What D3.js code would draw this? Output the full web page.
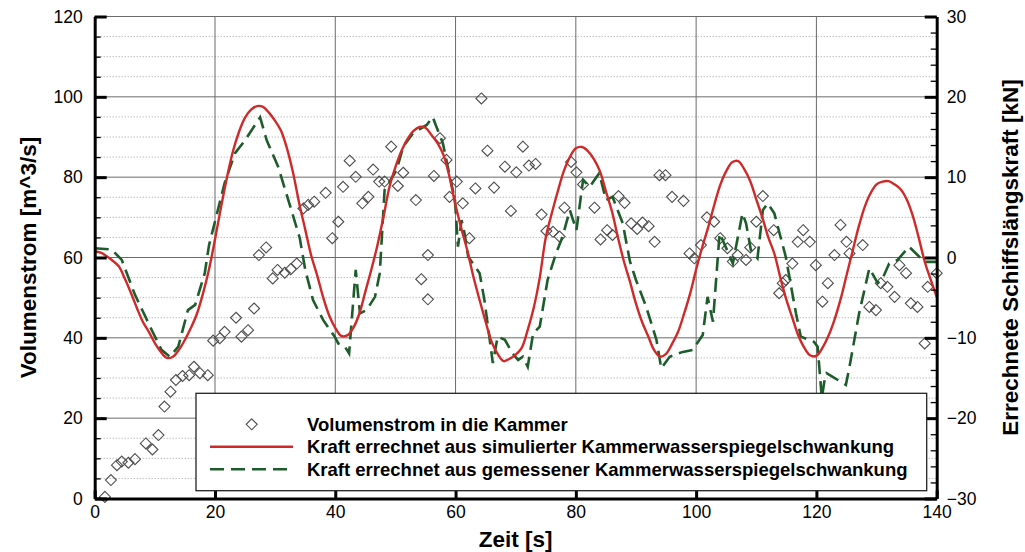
<!DOCTYPE html>
<html lang="de">
<head>
    <meta charset="utf-8">
    <title>Volumenstrom und Schiffslängskraft</title>
    <style type="text/css">
        body { margin: 0; background: #fff; }
        .chart text { font-family: "Liberation Sans", Arial, Helvetica, sans-serif; fill: #000; }
        .chart .tick text { font-size: 17.5px; }
        .chart .domain { stroke: #000; stroke-width: 3; }
        .chart .major line { stroke: #000; stroke-width: 3; }
        .chart .minor line { stroke: #000; stroke-width: 1.3; }
        .chart .title { font-size: 22.5px; font-weight: bold; }
        .chart .legend text { font-size: 18.5px; font-weight: bold; }
        .grid-major { stroke: #6a6a6a; stroke-width: 1; }
        .grid-minor { stroke: #a0a0a0; stroke-width: 1; stroke-dasharray: 1,2; }
        .diamond { fill: none; stroke: #4d4d4d; stroke-width: 1.1; }
    </style>
</head>
<body>
<svg class="chart" width="1025" height="552"></svg>
<script src="https://cdnjs.cloudflare.com/ajax/libs/d3/7.8.5/d3.min.js"></script>
<script>
// --- Daten ---
var seriesNames = [
    'Volumenstrom in die Kammer',
    'Kraft errechnet aus simulierter Kammerwasserspiegelschwankung',
    'Kraft errechnet aus gemessener Kammerwasserspiegelschwankung'
];

var xTicks = [0, 20, 40, 60, 80, 100, 120, 140];
var leftTicks = [0, 20, 40, 60, 80, 100, 120];
var rightTicks = [-30, -20, -10, 0, 10, 20, 30];

// Volumenstrom [m^3/s] über Zeit [s]
var volumenstrom = [
    [1.7, 0.4], [2.7, 4.6], [3.7, 8.3], [4.5, 9.2], [5.6, 8.9], [6.7, 9.8], [8.5, 13.7], [9.6, 12.2],
    [10.6, 15.8], [11.6, 22.9], [12.6, 26.6], [13.5, 29.5], [14.6, 30.5], [15.7, 30.7], [16.5, 32.8],
    [17.5, 31.2], [18.8, 30.7], [19.7, 39.3], [20.8, 39.9], [21.6, 41.5], [23.5, 45.0], [24.4, 40.3],
    [25.5, 41.9], [26.5, 47.3], [27.3, 60.6], [28.5, 62.5], [29.6, 54.8], [30.4, 56.9], [31.6, 56.2],
    [32.6, 57.1], [33.6, 58.5], [34.7, 72.2], [35.5, 73.1], [36.5, 73.9], [38.4, 76.1], [39.5, 64.8],
    [40.5, 68.9], [41.3, 77.6], [42.4, 84.1], [43.4, 80.1], [44.5, 73.5], [45.5, 75.1], [46.3, 81.9],
    [47.3, 78.9], [48.2, 78.9], [49.3, 87.6], [50.4, 77.8], [51.3, 81.1], [53.4, 74.3], [54.3, 54.6],
    [55.4, 49.6], [55.4, 60.6], [56.4, 80.3], [57.4, 89.7], [58.5, 84.3], [59.0, 75.1], [60.2, 78.9],
    [61.2, 73.5], [62.3, 64.8], [63.3, 77.2], [64.3, 99.6], [65.3, 86.6], [66.4, 77.4], [68.2, 82.6],
    [69.2, 71.6], [70.1, 81.2], [71.2, 87.6], [72.2, 82.9], [73.3, 83.3], [74.3, 70.7], [75.1, 66.6],
    [76.2, 66.4], [77.3, 65.2], [78.1, 72.4], [79.2, 83.8], [80.1, 81.2], [81.2, 78.2], [83.1, 72.4],
    [84.1, 64.5], [85.2, 66.8], [86.1, 65.6], [87.1, 75.3], [88.1, 73.6], [89.2, 68.5], [90.2, 67.1],
    [91.1, 68.7], [92.1, 67.8], [93.1, 63.9], [93.9, 80.5], [94.9, 80.5], [96.0, 75.1], [97.9, 74.1],
    [98.9, 61.0], [99.7, 59.8], [100.8, 63.1], [101.8, 70.0], [103.0, 68.9], [104.0, 64.8], [105.2, 62.3],
    [106.1, 59.0], [106.9, 60.6], [108.3, 59.4], [109.0, 62.5], [110.0, 68.9], [111.1, 75.3], [112.9, 66.8],
    [113.8, 51.1], [114.4, 53.6], [114.9, 54.4], [116.0, 58.5], [116.9, 63.9], [117.8, 66.8], [118.9, 63.9],
    [119.9, 58.1], [121.0, 49.0], [121.9, 53.6], [123.0, 60.6], [124.0, 68.1], [125.0, 63.9], [125.5, 61.0],
    [127.7, 63.1], [128.8, 47.7], [129.9, 46.9], [130.7, 53.6], [131.8, 52.7], [133.0, 50.2], [133.8, 58.1],
    [134.9, 56.1], [135.7, 48.6], [136.8, 47.7], [138.0, 38.6], [138.5, 52.7], [140.0, 56.1]
];

// Kraft aus simulierter Schwankung [kN]
var kraftSimuliert = [
    [0, 0.75], [1, 0.6], [2, 0.15], [3, -0.4], [4, -1.1], [5, -2.6], [6, -4.35], [7, -6.25], [8, -8],
    [9, -9.25], [10, -10.65], [11, -11.75], [12, -12.5], [13, -12.35], [14, -11.5], [15, -10.25],
    [16, -8.75], [17, -7], [18, -4.5], [19, -1.5], [20, 2.25], [21, 6.25], [22, 10], [23, 13.25],
    [24, 15.65], [25, 17.4], [26, 18.4], [27, 18.85], [28, 18.75], [29, 18], [30, 17], [31, 15.75],
    [32, 13.5], [33, 10.5], [34, 6.75], [35, 3.5], [36, 0.25], [37, -2.25], [38, -5], [39, -7.25],
    [40, -8.75], [41, -9.75], [42, -9.7], [43, -8.75], [44, -7], [45, -4.25], [46, -1.5], [47, 1.5],
    [48, 5], [49, 8.75], [50, 11.25], [51, 13.25], [52, 14.75], [53, 15.75], [54, 16.25], [55, 16.15],
    [56, 15.25], [57, 14.25], [58, 12.75], [59, 10], [60, 6.5], [61, 3.5], [62, 0.75], [63, -2.5],
    [64, -5.3], [65, -8], [66, -10.5], [67, -12], [68, -12.9], [69, -12.6], [70, -12.1], [71, -11.25],
    [72, -9], [73, -6.25], [74, -2.5], [75, 2.5], [76, 5.5], [77, 8.25], [78, 10.75],
    [79, 12.5], [80, 13.6], [81, 13.75], [82, 13.25], [83, 12.25], [84, 10.75], [85, 8.25], [86, 5.75],
    [87, 2.5], [88, -0.5], [89, -3], [90, -5.75], [91, -8], [92, -9.75], [93, -11.5], [94, -12.35],
    [95, -12], [96, -10.75], [97, -9.25], [98, -7], [99, -4.5], [100, -1.5], [101, 1.25], [102, 3.75],
    [103, 6.5], [104, 9], [105, 10.75], [106, 11.85], [107, 12], [108, 11], [109, 9.5], [110, 7.25],
    [111, 5], [112, 2.5], [113, 0.5], [114, -2.5], [115, -5.25], [116, -7.5], [117, -9.75], [118, -11.25],
    [119, -12.2], [120, -12.25], [121, -11.25], [122, -9.75], [123, -7.75], [124, -5.25], [125, -2.25],
    [126, 0.75], [127, 3.75], [128, 6.25], [129, 8], [130, 9.1], [131, 9.45], [132, 9.5], [133, 9.1],
    [134, 8.5], [135, 7.25], [136, 5.25], [137, 2.5], [138, -0.5], [139, -2.75], [140, -4.9]
];

// Kraft aus gemessener Schwankung [kN]
var kraftGemessen = [
    [0, 1.15], [2.8, 1.0], [4.5, -0.3], [6.7, -4.65], [9.5, -9.05], [11.1, -11.5], [12.5, -12.35],
    [13.9, -11.1], [15.5, -6.55], [16.7, -5.9], [18.3, -1.95], [19.0, 1.5], [21.6, 9.25], [23.3, 12.95],
    [25.0, 14.6], [27.5, 17.45], [28.6, 14.6], [30.5, 11.3], [32.7, 5.9], [34.1, 2.4], [35.0, -1.5],
    [36.3, -5.3], [38.0, -7.8], [39.9, -9.85], [40.5, -10.7], [41.6, -11.1], [42.3, -11.95], [43.0, -5.3],
    [43.4, -1.55], [44.1, -6.95], [45.2, -6.55], [46.6, -4.9], [47.4, -1.95], [48.2, 8.4], [50.2, 10.9],
    [51.3, 13.8], [52.9, 15.45], [55.2, 16.5], [56.2, 17.5], [56.8, 16.3], [57.9, 14.2], [58.7, 11.3],
    [59.9, 7.15], [60.4, 1.35], [61.0, 4.65], [61.5, 3.0], [62.1, 0.1], [64.0, -1.95], [64.8, -5.3],
    [66.2, -13.15], [67.0, -9.85], [68.2, -10.25], [69.5, -11.95], [70.4, -12.75], [71.2, -12.35],
    [72.0, -13.6], [72.9, -9.45], [74.0, -8.6], [75.3, -2.8], [76.7, 0.5], [77.8, 2.6], [79.0, 5.9],
    [80.1, 3.4], [81.2, 9.65], [82.3, 8.8], [83.9, 10.5], [85.0, 7.15], [86.1, 7.55], [87.8, 4.25],
    [89.0, -0.5], [90.0, -2.8], [91.7, -6.15], [93.4, -10.25], [94.2, -13.8], [95.6, -12.35],
    [97.8, -11.75], [99.4, -11.5], [101.1, -9.65], [101.9, -4.9], [102.8, -8], [103.9, 3], [104.4, 2.2],
    [106.1, -0.75], [107.7, 5.5], [108.3, 4.25], [109.1, 0.95], [110.2, -0.1], [111.1, 5.9],
    [111.9, 6.75], [113.0, 5.5], [114.9, 0.1], [116.6, -6.95], [117.4, -9.85], [119.6, -10.5],
    [120.2, -11.1], [120.9, -17.5], [121.3, -15.5], [121.7, -14.4], [122.7, -14.85], [124.9, -15.85],
    [125.5, -13.6], [127.1, -6.95], [128.8, -1.35], [130.2, -3.2], [131.0, -2.6], [132.1, -0.75],
    [133.5, -0.3], [135.4, 1.35], [137.1, 0.1], [138.2, -0.55], [140, -0.55]
];

// --- Aufbau ---
var svg = d3.select('.chart'),
    plot = {left: 94.7, right: 936.7, top: 16.5, bottom: 498.5};

var red = '#cf2a2a',
    green = '#1d5c2b';

var x = d3.scaleLinear().domain([0, 140]).range([plot.left, plot.right]);
var yL = d3.scaleLinear().domain([0, 120]).range([plot.bottom, plot.top]);
var yR = d3.scaleLinear().domain([-30, 30]).range([plot.bottom, plot.top]);

// Gitter
var grid = svg.append('g');
grid.selectAll('.gm')
    .data(d3.range(5, 120, 5).filter(function(v) { return v % 20 !== 0; }))
    .enter().append('line')
    .attr('class', 'grid-minor')
    .attr('x1', plot.left).attr('x2', plot.right)
    .attr('y1', function(d) { return yL(d); }).attr('y2', function(d) { return yL(d); });

grid.selectAll('.gh')
    .data(leftTicks.slice(1))
    .enter().append('line')
    .attr('class', 'grid-major')
    .attr('x1', plot.left).attr('x2', plot.right)
    .attr('y1', function(d) { return yL(d); }).attr('y2', function(d) { return yL(d); });

grid.selectAll('.gv')
    .data(xTicks.slice(1, -1))
    .enter().append('line')
    .attr('class', 'grid-major')
    .attr('y1', plot.top).attr('y2', plot.bottom)
    .attr('x1', function(d) { return x(d); }).attr('x2', function(d) { return x(d); });

// Raute als Symbol
function diamond(cx, cy, r) {
    return 'M' + cx + ',' + (cy - r) + 'L' + (cx + r) + ',' + cy +
           'L' + cx + ',' + (cy + r) + 'L' + (cx - r) + ',' + cy + 'Z';
}

svg.append('g').selectAll('path')
    .data(volumenstrom)
    .enter().append('path')
    .attr('class', 'diamond')
    .attr('d', function(d) { return diamond(x(d[0]), yL(d[1]), 5.5); });

var lineR = d3.line()
    .x(function(d) { return x(d[0]); })
    .y(function(d) { return yR(d[1]); });

svg.append('path')
    .datum(kraftGemessen)
    .attr('fill', 'none')
    .attr('stroke', green)
    .attr('stroke-width', 2.6)
    .attr('stroke-dasharray', '14,7')
    .attr('d', lineR);

svg.append('path')
    .datum(kraftSimuliert)
    .attr('fill', 'none')
    .attr('stroke', red)
    .attr('stroke-width', 2.4)
    .attr('d', lineR.curve(d3.curveCatmullRom));

// Achsen
svg.append('g').attr('class', 'minor')
    .attr('transform', 'translate(' + plot.left + ',0)')
    .call(d3.axisLeft(yL).tickValues(d3.range(0, 121, 5)).tickSize(-6).tickFormat(''))
    .select('.domain').remove();

svg.append('g').attr('class', 'major')
    .attr('transform', 'translate(' + plot.left + ',0)')
    .call(d3.axisLeft(yL).tickValues(leftTicks).tickSize(-12).tickSizeOuter(0).tickPadding(12));

svg.append('g').attr('class', 'minor')
    .attr('transform', 'translate(' + plot.right + ',0)')
    .call(d3.axisRight(yR).tickValues(d3.range(-30, 31, 2)).tickSize(-6).tickFormat(''))
    .select('.domain').remove();

svg.append('g').attr('class', 'major')
    .attr('transform', 'translate(' + plot.right + ',0)')
    .call(d3.axisRight(yR).tickValues(rightTicks).tickSize(-12).tickSizeOuter(0).tickPadding(10));

var xAxis = svg.append('g').attr('class', 'major')
    .attr('transform', 'translate(0,' + plot.bottom + ')')
    .call(d3.axisBottom(x).tickValues(xTicks).tickSize(-8).tickSizeOuter(0).tickPadding(7.5));
xAxis.selectAll('.tick line').attr('stroke-width', 2);

// Achsentitel
svg.append('text').attr('class', 'title')
    .attr('transform', 'translate(36,' + (plot.top + plot.bottom) / 2 + ') rotate(-90)')
    .attr('text-anchor', 'middle')
    .text('Volumenstrom [m^3/s]');

svg.append('text').attr('class', 'title')
    .attr('transform', 'translate(1018,' + (plot.top + plot.bottom) / 2 + ') rotate(-90)')
    .attr('text-anchor', 'middle')
    .text('Errechnete Schiffslängskraft [kN]');

svg.append('text').attr('class', 'title')
    .attr('x', (plot.left + plot.right) / 2)
    .attr('y', 547)
    .attr('text-anchor', 'middle')
    .text('Zeit [s]');

// Legende
var legend = svg.append('g').attr('class', 'legend');
legend.append('rect')
    .attr('x', 196).attr('y', 393.3)
    .attr('width', 730.7).attr('height', 97.4)
    .attr('fill', '#fff').attr('stroke', '#222').attr('stroke-width', 1.3);

var rowY = [424.3, 446.7, 469.3];

legend.append('path')
    .attr('class', 'diamond')
    .attr('d', diamond(251.7, rowY[0], 5.5));

legend.append('line')
    .attr('x1', 210).attr('x2', 293).attr('y1', rowY[1]).attr('y2', rowY[1])
    .attr('stroke', red).attr('stroke-width', 2.6);

legend.append('line')
    .attr('x1', 210).attr('x2', 293).attr('y1', rowY[2]).attr('y2', rowY[2])
    .attr('stroke', green).attr('stroke-width', 2.6).attr('stroke-dasharray', '14,7');

legend.selectAll('.lt')
    .data(seriesNames)
    .enter().append('text')
    .attr('x', 307)
    .attr('y', function(d, i) { return rowY[i] + 6.5; })
    .text(function(d) { return d; });
</script>
</body>
</html>
